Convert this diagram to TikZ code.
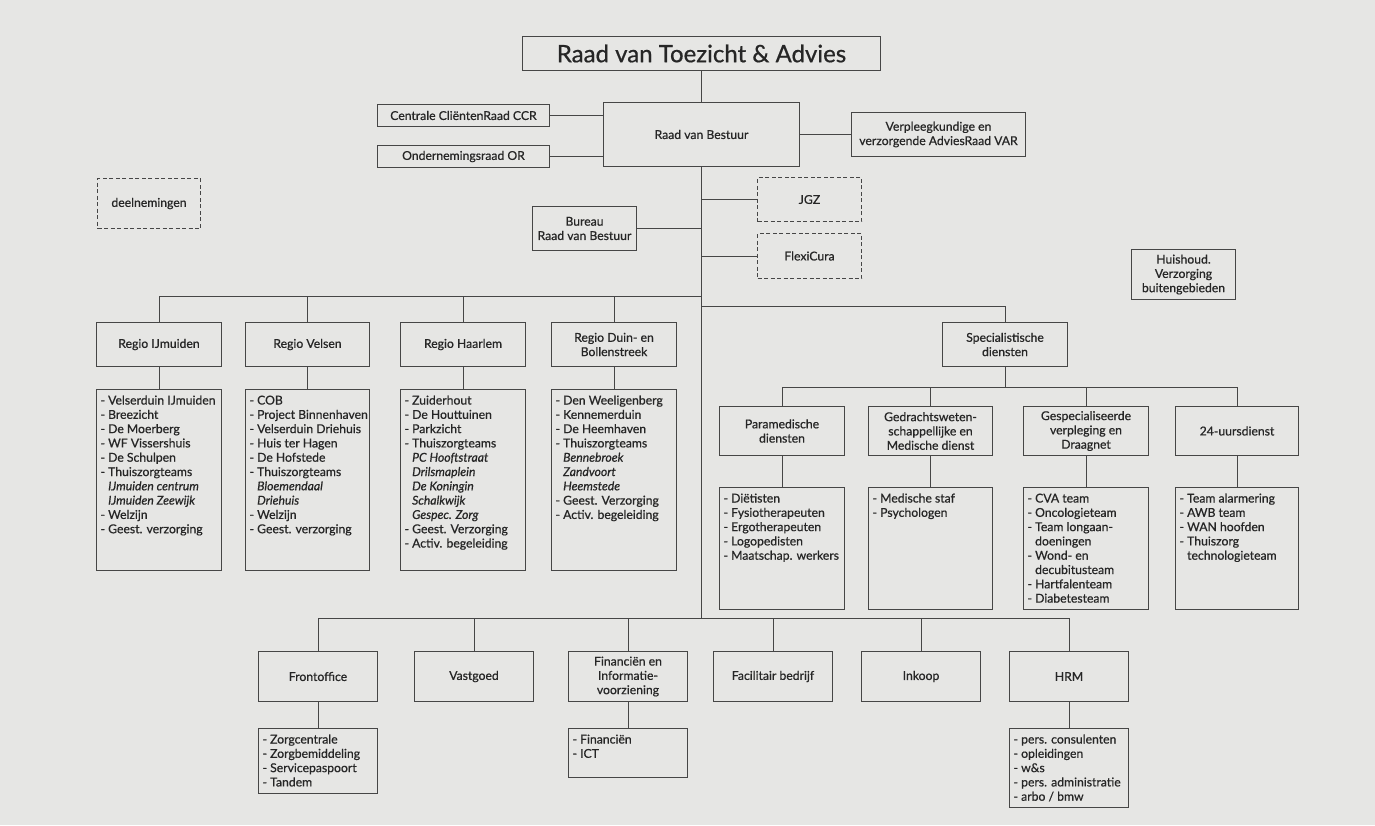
\documentclass[tikz,border=0pt]{standalone}
\usepackage{fontspec}
\setmainfont{Lato}[FakeBold=0.7]
\usepackage{tikz}

\definecolor{achter}{RGB}{230,230,228}
\definecolor{lijn}{RGB}{70,70,70}
\definecolor{tekst}{RGB}{38,38,38}
\newcommand{\klein}{\fontsize{12.2}{14.3}\selectfont}
\newcommand{\inspring}{\phantom{- }}
\newcommand{\cursief}[1]{\inspring\textit{#1}}
\newcommand{\lijst}[3]{\parbox[c][\dimexpr#2pt-10pt\relax][t]{\dimexpr#1pt-8pt\relax}{\begin{tabular}[t]{@{}l@{}}#3\end{tabular}}}

\begin{document}
\begin{tikzpicture}[x=1pt,y=-1pt,
	box/.style 2 args={draw=lijn,line width=1pt,fill=achter,minimum width=#1,minimum height=#2,inner sep=0pt,anchor=north west,align=center,font=\klein,text=tekst},
	stippel/.style 2 args={box={#1}{#2},dash pattern=on 4pt off 2.5pt},
	lijstbox/.style={draw=lijn,line width=1pt,fill=achter,inner xsep=4pt,inner ysep=5pt,anchor=north west,font=\klein,text=tekst},
	verbind/.style={draw=lijn,line width=1pt}]
		\fill[achter] (0,0) rectangle (1375,825);
		
		% top
		\node[box={358}{34},font=\fontsize{24}{28}\selectfont] (rvt) at (522,36) {Raad van Toezicht \& Advies};
		\node[box={196}{64}] (rvb) at (603,102) {Raad van Bestuur};
		\node[box={172}{22}] (ccr) at (377,104) {Centrale CliëntenRaad CCR};
		\node[box={172}{22}] (or) at (377,145) {Ondernemingsraad OR};
		\node[box={174}{44}] (var) at (851,112) {Verpleegkundige en\\verzorgende AdviesRaad VAR};
		\node[stippel={103}{50}] (dln) at (97,178) {deelnemingen};
		\node[box={104}{44}] (bur) at (532,206) {Bureau\\Raad van Bestuur};
		\node[stippel={104}{44}] (jgz) at (757,177) {JGZ};
		\node[stippel={104}{45}] (flx) at (757,233) {FlexiCura};
		\node[box={104}{50}] (hui) at (1131,249) {Huishoud.\\Verzorging\\buitengebieden};
		
		% regio's
		\node[box={125}{44}] (rij) at (96,322) {Regio IJmuiden};
		\node[box={124}{44}] (rve) at (245,322) {Regio Velsen};
		\node[box={125}{44}] (rha) at (400,322) {Regio Haarlem};
		\node[box={125}{44}] (rdb) at (551,322) {Regio Duin- en\\Bollenstreek};
		\node[lijstbox] (lij) at (96,389) {\lijst{125}{181}{- Velserduin IJmuiden\\- Breezicht\\- De Moerberg\\- WF Vissershuis\\- De Schulpen\\- Thuiszorgteams\\\cursief{IJmuiden centrum}\\\cursief{IJmuiden Zeewijk}\\- Welzijn\\- Geest. verzorging}};
		\node[lijstbox] (lve) at (245,389) {\lijst{124}{181}{- COB\\- Project Binnenhaven\\- Velserduin Driehuis\\- Huis ter Hagen\\- De Hofstede\\- Thuiszorgteams\\\cursief{Bloemendaal}\\\cursief{Driehuis}\\- Welzijn\\- Geest. verzorging}};
		\node[lijstbox] (lha) at (400,389) {\lijst{125}{181}{- Zuiderhout\\- De Houttuinen\\- Parkzicht\\- Thuiszorgteams\\\cursief{PC Hooftstraat}\\\cursief{Drilsmaplein}\\\cursief{De Koningin}\\\cursief{Schalkwijk}\\\cursief{Gespec. Zorg}\\- Geest. Verzorging\\- Activ. begeleiding}};
		\node[lijstbox] (ldb) at (551,389) {\lijst{125}{181}{- Den Weeligenberg\\- Kennemerduin\\- De Heemhaven\\- Thuiszorgteams\\\cursief{Bennebroek}\\\cursief{Zandvoort}\\\cursief{Heemstede}\\- Geest. Verzorging\\- Activ. begeleiding}};
		
		% specialistische diensten
		\node[box={125}{44}] (spe) at (942,322) {Specialistische\\diensten};
		\node[box={125}{49}] (par) at (719,406) {Paramedische\\diensten};
		\node[box={124}{49}] (ged) at (868,406) {Gedrachtsweten-\\schappellijke en\\Medische dienst};
		\node[box={125}{49}] (ges) at (1023,406) {Gespecialiseerde\\verpleging en\\Draagnet};
		\node[box={123}{49}] (uur) at (1175,406) {24-uursdienst};
		\node[lijstbox] (lpa) at (719,487) {\lijst{125}{122}{- Diëtisten\\- Fysiotherapeuten\\- Ergotherapeuten\\- Logopedisten\\- Maatschap. werkers}};
		\node[lijstbox] (lge) at (868,487) {\lijst{124}{122}{- Medische staf\\- Psychologen}};
		\node[lijstbox] (lgs) at (1023,487) {\lijst{125}{122}{- CVA team\\- Oncologieteam\\- Team longaan-\\\inspring doeningen\\- Wond- en\\\inspring decubitusteam\\- Hartfalenteam\\- Diabetesteam}};
		\node[lijstbox] (luu) at (1175,487) {\lijst{123}{122}{- Team alarmering\\- AWB team\\- WAN hoofden\\- Thuiszorg\\\inspring technologieteam}};
		
		% ondersteuning
		\node[box={119}{50}] (fro) at (258,651) {Frontoffice};
		\node[box={119}{50}] (vas) at (414,651) {Vastgoed};
		\node[box={119}{50}] (fin) at (568,651) {Financiën en\\Informatie-\\voorziening};
		\node[box={119}{50}] (fac) at (713,651) {Facilitair bedrijf};
		\node[box={119}{50}] (ink) at (861,651) {Inkoop};
		\node[box={119}{50}] (hrm) at (1009,651) {HRM};
		\node[lijstbox] (lfr) at (258,728) {\lijst{119}{65}{- Zorgcentrale\\- Zorgbemiddeling\\- Servicepaspoort\\- Tandem}};
		\node[lijstbox] (lfi) at (568,728) {\lijst{119}{49}{- Financiën\\- ICT}};
		\node[lijstbox] (lhr) at (1009,728) {\lijst{119}{79}{- pers. consulenten\\- opleidingen\\- w\&s\\- pers. administratie\\- arbo / bmw}};
		
		\coordinate (bl) at (702,296);
		\coordinate (br) at (702,306);
		\coordinate (bs) at (1005,387);
		\coordinate (bb) at (702,618);
		
		\draw[verbind] (rvt.south) -- (rvb.north);
		\draw[verbind] (rvb.south) -- (rvb.south |- bb);
		\draw[verbind] (ccr.east) -- (ccr.east -| rvb.west);
		\draw[verbind] (or.east) -- (or.east -| rvb.west);
		\draw[verbind] (rvb.east) -- (rvb.east -| var.west);
		\draw[verbind] (jgz.west) -- (jgz.west -| rvb.south);
		\draw[verbind] (flx.west) -- (flx.west -| rvb.south);
		\draw[verbind] (bur.east) -- (bur.east -| rvb.south);
		
		\draw[verbind] (rij.north) |- (bl);
		\foreach \r in {rve,rha,rdb}
			\draw[verbind] (\r.north) -- (\r.north |- bl);
		\draw[verbind] (br) -| (spe.north);
		\draw[verbind] (spe.south) -- (spe.south |- bs);
		\draw[verbind] (par.north) |- (uur.north |- bs) -- (uur.north);
		\foreach \s in {ged,ges}
			\draw[verbind] (\s.north) -- (\s.north |- bs);
		\draw[verbind] (fro.north) |- (hrm.north |- bb) -- (hrm.north);
		\foreach \o in {vas,fin,fac,ink}
			\draw[verbind] (\o.north) -- (\o.north |- bb);
		
		\foreach \a/\b in {rij/lij,rve/lve,rha/lha,rdb/ldb,par/lpa,ged/lge,ges/lgs,uur/luu,fro/lfr,fin/lfi,hrm/lhr}
			\draw[verbind] (\a.south) -- (\a.south |- \b.north);
\end{tikzpicture}
\end{document}
